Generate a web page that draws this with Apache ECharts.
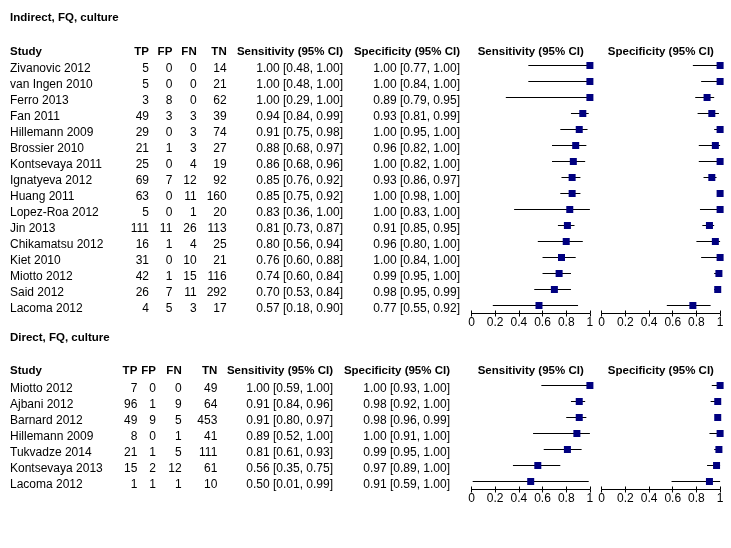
<!DOCTYPE html>
<html>
<head>
<meta charset="utf-8">
<script src="https://cdn.jsdelivr.net/npm/echarts@6/dist/echarts.min.js"></script>
<style>html,body{margin:0;padding:0;background:#fff;}#c{width:731px;height:548px;}</style>
</head>
<body>
<div id="c"></div>
<script>
// ---- Section A: Indirect, FQ, culture ----
const titleA = 'Indirect, FQ, culture';
const studiesA = ['Zivanovic 2012','van Ingen 2010','Ferro 2013','Fan 2011','Hillemann 2009','Brossier 2010','Kontsevaya 2011','Ignatyeva 2012','Huang 2011','Lopez-Roa 2012','Jin 2013','Chikamatsu 2012','Kiet 2010','Miotto 2012','Said 2012','Lacoma 2012'];
const tpA = [5,5,3,49,29,21,25,69,63,5,111,16,31,42,26,4];
const fpA = [0,0,8,3,0,1,0,7,0,0,11,1,0,1,7,5];
const fnA = [0,0,0,3,3,3,4,12,11,1,26,4,10,15,11,3];
const tnA = [14,21,62,39,74,27,19,92,160,20,113,25,21,116,292,17];
const sensA   = [1.00,1.00,1.00,0.94,0.91,0.88,0.86,0.85,0.85,0.83,0.81,0.80,0.76,0.74,0.70,0.57];
const sensLoA = [0.48,0.48,0.29,0.84,0.75,0.68,0.68,0.76,0.75,0.36,0.73,0.56,0.60,0.60,0.53,0.18];
const sensHiA = [1.00,1.00,1.00,0.99,0.98,0.97,0.96,0.92,0.92,1.00,0.87,0.94,0.88,0.84,0.84,0.90];
const specA   = [1.00,1.00,0.89,0.93,1.00,0.96,1.00,0.93,1.00,1.00,0.91,0.96,1.00,0.99,0.98,0.77];
const specLoA = [0.77,0.84,0.79,0.81,0.95,0.82,0.82,0.86,0.98,0.83,0.85,0.80,0.84,0.95,0.95,0.55];
const specHiA = [1.00,1.00,0.95,0.99,1.00,1.00,1.00,0.97,1.00,1.00,0.95,1.00,1.00,1.00,0.99,0.92];

// ---- Section B: Direct, FQ, culture ----
const titleB = 'Direct, FQ, culture';
const studiesB = ['Miotto 2012','Ajbani 2012','Barnard 2012','Hillemann 2009','Tukvadze 2014','Kontsevaya 2013','Lacoma 2012'];
const tpB = [7,96,49,8,21,15,1];
const fpB = [0,1,9,0,1,2,1];
const fnB = [0,9,5,1,5,12,1];
const tnB = [49,64,453,41,111,61,10];
const sensB   = [1.00,0.91,0.91,0.89,0.81,0.56,0.50];
const sensLoB = [0.59,0.84,0.80,0.52,0.61,0.35,0.01];
const sensHiB = [1.00,0.96,0.97,1.00,0.93,0.75,0.99];
const specB   = [1.00,0.98,0.98,1.00,0.99,0.97,0.91];
const specLoB = [0.93,0.92,0.96,0.91,0.95,0.89,0.59];
const specHiB = [1.00,1.00,0.99,1.00,1.00,1.00,1.00];

const headers = ['Study','TP','FP','FN','TN','Sensitivity (95% CI)','Specificity (95% CI)'];
const axisTicks = [0,0.2,0.4,0.6,0.8,1];

// ---- layout ----
const FONT = '"Liberation Sans", Arial, sans-serif';
const MARK = '#000080';
const sensLeft = 471.5, specLeft = 601.7, plotW = 118.4;
const layA = {top:57.5, h:256, titleY:18, headY:51.5, cols:[10,149,172.3,196.7,226.7,343,460]};
const layB = {top:377.5, h:112, titleY:338, headY:371, cols:[10,137.3,156,181.7,217.3,333,450]};
const TEXT_DY = 3.5;

const chart = echarts.init(document.getElementById('c'), null, {renderer:'canvas'});

function f2(v){ return v.toFixed(2); }
function ci(e, lo, hi){ return f2(e) + ' [' + f2(lo) + ', ' + f2(hi) + ']'; }

const grids = [], xAxes = [], yAxes = [], series = [], graphics = [];

function txt(x, y, text, align, bold, size){
  return {type:'text', x:x, y:y, silent:true,
    style:{text:text, align:align, textAlign:align, verticalAlign:'middle', textVerticalAlign:'middle',
      fontSize:size||12, fontWeight:bold?'bold':'normal', fontFamily:FONT, fill:'#000'}};
}

function addSection(lay, title, studies, tp, fp, fn, tn, sens, sLo, sHi, spec, pLo, pHi){
  const gi = grids.length;
  [sensLeft, specLeft].forEach(function(left){
    const g = grids.length;
    grids.push({left:left, top:lay.top, width:plotW, height:lay.h, containLabel:false});
    xAxes.push({gridIndex:g, type:'value', position:'bottom', min:0, max:1, interval:0.2,
      axisLine:{show:true, onZero:false, lineStyle:{color:'#000', width:1}},
      axisTick:{show:true, length:3, lineStyle:{color:'#000', width:1}},
      axisLabel:{show:true, fontSize:12, color:'#000', margin:3, fontFamily:FONT,
        formatter:function(v){ const t = axisTicks.find(function(t){return Math.abs(t-v)<1e-6;}); return String(t === undefined ? v : t); }},
      splitLine:{show:false}});
    xAxes.push({gridIndex:g, type:'value', position:'bottom', min:0, max:1, interval:0.2,
      axisLine:{show:false}, axisTick:{show:true, inside:true, length:3, lineStyle:{color:'#000', width:1}},
      axisLabel:{show:false}, splitLine:{show:false}});
    yAxes.push({gridIndex:g, type:'category', data:studies, inverse:true, show:false,
      axisLine:{show:false}, axisTick:{show:false}, axisLabel:{show:false}, splitLine:{show:false}});
  });
  const pairs = [[sens, sLo, sHi], [spec, pLo, pHi]];
  pairs.forEach(function(p, k){
    const g = gi + k;
    const data = studies.map(function(_, i){ return [p[0][i], i, p[1][i], p[2][i]]; });
    series.push({type:'custom', coordinateSystem:'cartesian2d', xAxisIndex:g*2, yAxisIndex:g, silent:true, clip:false, z:2,
      encode:{x:0, y:1}, data:data,
      renderItem:function(params, api){
        const a = api.coord([api.value(2), api.value(1)]);
        const b = api.coord([api.value(3), api.value(1)]);
        return {type:'line', shape:{x1:a[0], y1:a[1], x2:b[0], y2:b[1]}, style:{stroke:'#000', lineWidth:1}};
      }});
    series.push({type:'scatter', xAxisIndex:g*2, yAxisIndex:g, silent:true, clip:false, z:3,
      symbol:'rect', symbolSize:7, itemStyle:{color:MARK, opacity:1},
      data:studies.map(function(_, i){ return [p[0][i], i]; })});
  });
  // table text, rows positioned by the category axis
  const c = lay.cols;
  series.push({type:'custom', coordinateSystem:'cartesian2d', xAxisIndex:gi*2, yAxisIndex:gi, silent:true, clip:false, z:4,
    encode:{x:0, y:1}, data:studies.map(function(_, i){ return [0, i]; }),
    renderItem:function(params, api){
      const i = params.dataIndex;
      const y = api.coord([0, api.value(1)])[1] + TEXT_DY;
      return {type:'group', children:[
        txt(c[0], y, studies[i], 'left'),
        txt(c[1], y, String(tp[i]), 'right'),
        txt(c[2], y, String(fp[i]), 'right'),
        txt(c[3], y, String(fn[i]), 'right'),
        txt(c[4], y, String(tn[i]), 'right'),
        txt(c[5], y, ci(sens[i], sLo[i], sHi[i]), 'right'),
        txt(c[6], y, ci(spec[i], pLo[i], pHi[i]), 'right')
      ]};
    }});
  // titles and headers
  graphics.push(txt(10, lay.titleY, title, 'left', true, 11.5));
  graphics.push(txt(c[0], lay.headY, headers[0], 'left', true, 11.5));
  for (let k = 1; k <= 6; k++) graphics.push(txt(c[k], lay.headY, headers[k], 'right', true, 11.5));
  graphics.push(txt(sensLeft + plotW/2, lay.headY, headers[5], 'center', true, 11.5));
  graphics.push(txt(specLeft + plotW/2, lay.headY, headers[6], 'center', true, 11.5));
}

addSection(layA, titleA, studiesA, tpA, fpA, fnA, tnA, sensA, sensLoA, sensHiA, specA, specLoA, specHiA);
addSection(layB, titleB, studiesB, tpB, fpB, fnB, tnB, sensB, sensLoB, sensHiB, specB, specLoB, specHiB);

chart.setOption({
  animation:false,
  backgroundColor:'#fff',
  grid:grids, xAxis:xAxes, yAxis:yAxes, series:series,
  graphic:{elements:graphics}
});
</script>
</body>
</html>
